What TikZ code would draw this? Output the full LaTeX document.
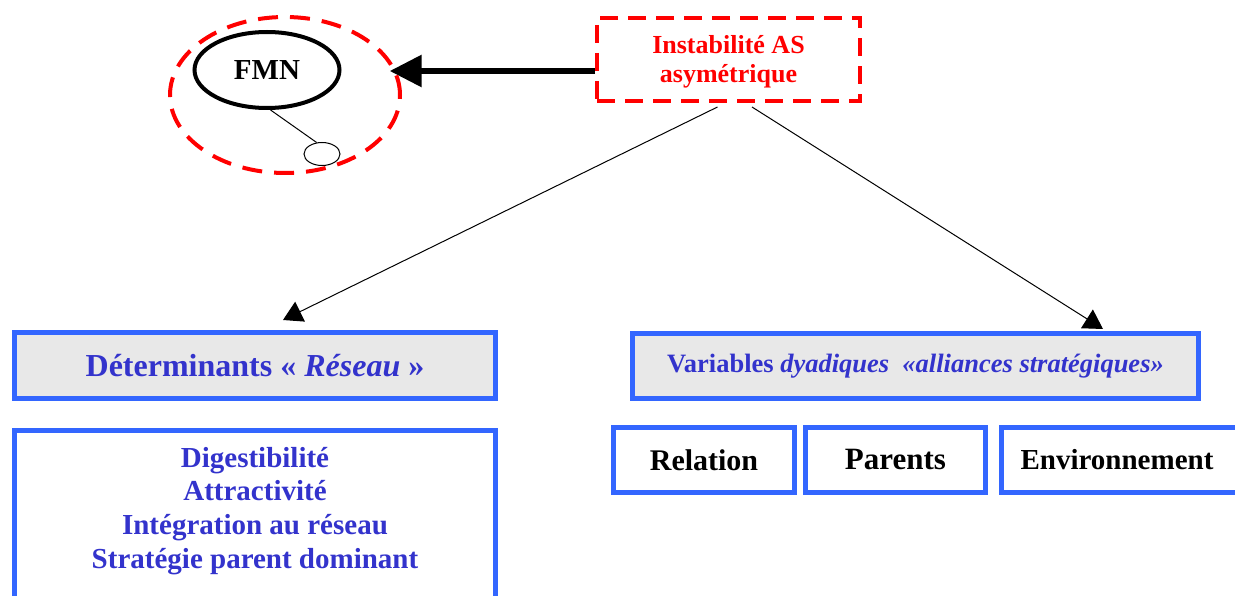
\documentclass[tikz,border=0pt]{standalone}
\usepackage{fontspec}
\setmainfont{Liberation Serif}
\usetikzlibrary{arrows.meta,shapes.geometric}
\definecolor{boxblue}{RGB}{51,102,255}
\definecolor{txtblue}{RGB}{51,51,204}
\definecolor{fillgray}{RGB}{232,232,232}
\newcommand{\fs}[1]{\fontsize{#1}{1.15\dimexpr#1pt\relax}\selectfont}

\begin{document}
\begin{tikzpicture}[x=1pt,y=-1pt,
  reddash/.style={draw=red,line width=4pt,dash pattern=on 18pt off 10pt},
  bluebox/.style={draw=boxblue,line width=5pt,inner sep=0pt,align=center},
  headbox/.style={bluebox,fill=fillgray,text=txtblue},
  itembox/.style={bluebox,fill=white,font=\bfseries\fs{30}},
  thinarrow/.style={line width=1pt,-{Triangle[length=19pt,width=22pt]}},
  bigarrow/.style={line width=6pt,-{Triangle[length=32pt,width=31pt]}}
]
\useasboundingbox (0,0) rectangle (1235,596);

% FMN and its dashed halo
\node[ellipse,reddash,dash pattern=on 20pt off 12pt,minimum width=230pt,minimum height=156pt,inner sep=0pt] (halo) at (285,95) {};
\node[ellipse,draw,line width=4pt,minimum width=145pt,minimum height=76pt,inner sep=0pt,font=\bfseries\fs{29}] (fmn) at (267,70) {FMN};
\node[ellipse,draw,line width=1pt,minimum width=36pt,minimum height=23pt,inner sep=0pt] (small) at (322,154) {};
\draw[line width=1pt] (fmn.-85) -- (small.115);

% source box and its caption
\node[reddash,minimum width=263pt,minimum height=83pt,inner sep=0pt] (inst) at (728.5,59.5) {};
\node[text=red,font=\bfseries\fs{26},align=center,inner sep=0pt] (insttext) at (728.5,62)
  {Instabilité AS\\[-0.5pt]asymétrique};

% left branch
\node[headbox,minimum width=481pt,minimum height=66pt,font=\bfseries\fs{32}] (det) at (255,365.5)
  {Déterminants « \textit{Réseau} »};
\node[bluebox,minimum width=481pt,minimum height=200pt,anchor=north] (list) at (255,427.5) {};
\node[text=txtblue,font=\bfseries\fs{29},align=center,inner sep=0pt] (items) at (255,511)
  {Digestibilité\\[0.5pt]Attractivité\\[0.5pt]Intégration au réseau\\[0.5pt]Stratégie parent dominant};

% right branch
\node[headbox,minimum width=566pt,minimum height=65pt,font=\bfseries\fs{26.5}] (var) at (915.5,366)
  {Variables \textit{dyadiques\ \ «alliances stratégiques»}};
\node[itembox,minimum width=181pt,minimum height=65pt] (rel) at (704,460) {Relation};
\node[itembox,minimum width=180pt,minimum height=65pt,font=\bfseries\fs{31}] (par) at (895.5,460) {Parents};
\node[itembox,minimum width=260pt,minimum height=65pt,anchor=west,font=\bfseries\fs{29}] (env) at (998.5,460)
  {\hspace*{-28pt}Environnement};

% connectors
\draw[bigarrow,shorten >=-7pt] ([yshift=-11.5pt]inst.west) -- ([yshift=-11.5pt]inst.west -| halo.12.5);
\draw[thinarrow] ([xshift=-11pt,yshift=-4pt]inst.south) -- ([xshift=28pt,yshift=10pt]det.north);
\draw[thinarrow] ([xshift=23.5pt,yshift=-4pt]inst.south) -- ([xshift=187.5pt,yshift=2pt]var.north);
\end{tikzpicture}
\end{document}
